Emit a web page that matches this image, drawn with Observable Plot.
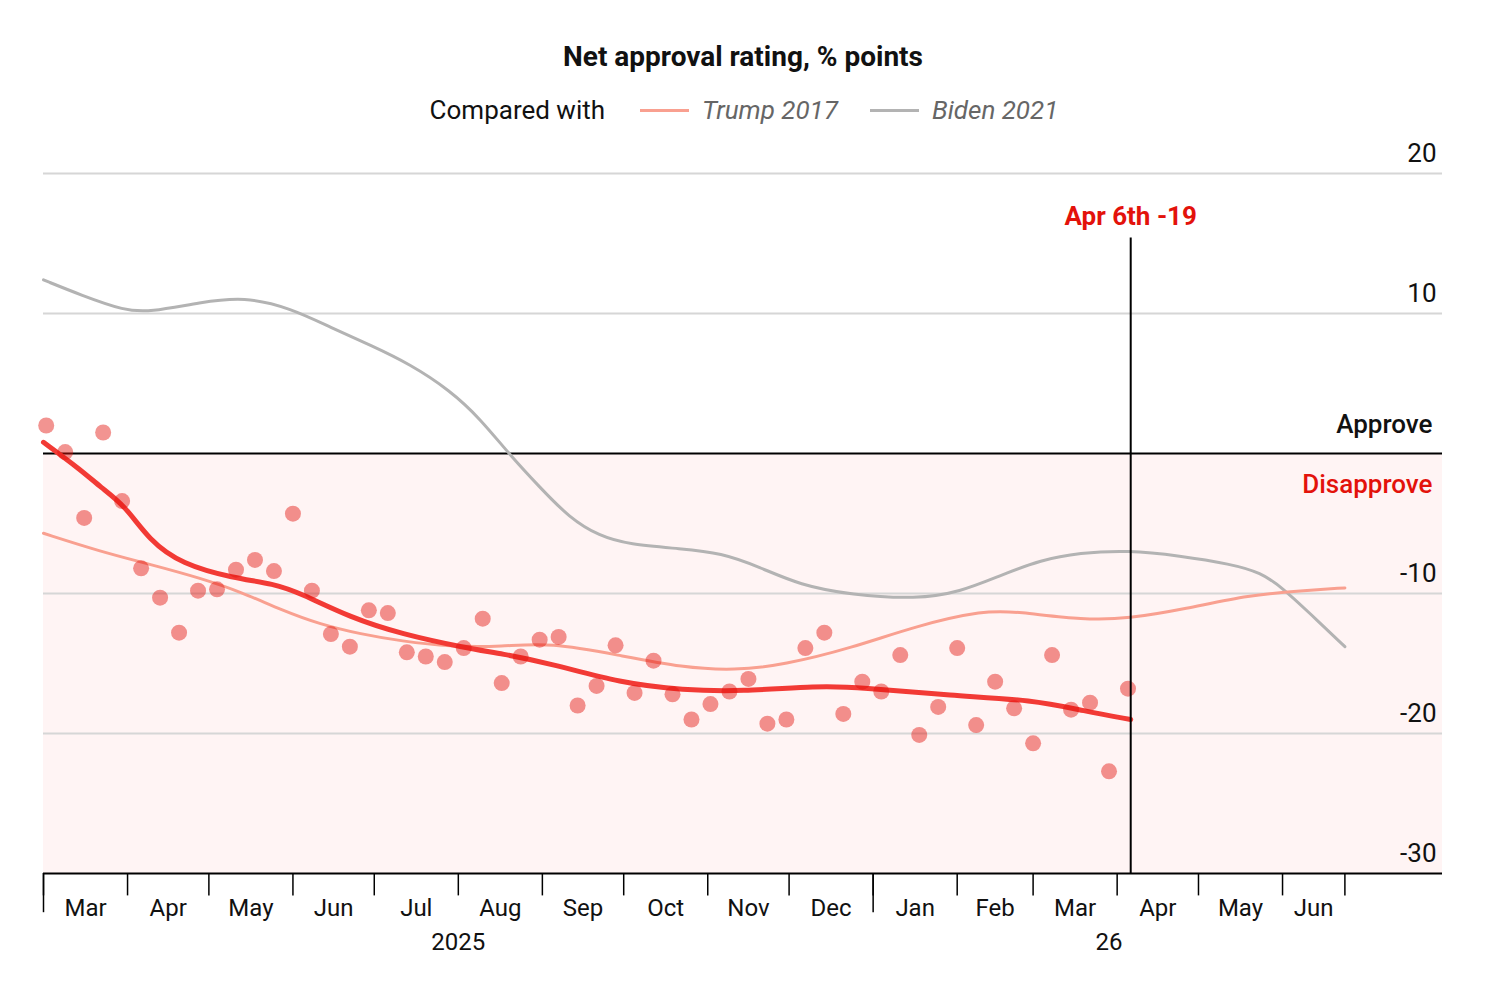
<!DOCTYPE html>
<html><head><meta charset="utf-8">
<script src="https://cdn.jsdelivr.net/npm/d3@7"></script>
<script src="https://cdn.jsdelivr.net/npm/@observablehq/plot@0.6"></script>
<style>
body{margin:0;background:#fff;font-family:Roboto,"Noto Sans",sans-serif;color:#111;}
#head{position:relative;height:126px;width:1500px;}
#title{position:absolute;top:40px;left:0;width:1486px;text-align:center;font-weight:700;font-size:28px;line-height:34px;color:#111;}
#legend{position:absolute;top:95px;left:0;width:1488px;display:flex;justify-content:center;align-items:center;font-size:26px;line-height:30px;}
.sw{display:inline-block;width:49px;height:3px;margin:0 13px 0 35px;}
.lab{font-style:italic;color:#666;}
</style></head>
<body>
<div id="head">
  <div id="title">Net approval rating, % points</div>
  <div id="legend"><span>Compared with</span><span class="sw" style="background:#f9a090"></span><span class="lab">Trump 2017</span><span class="sw" style="background:#b3b3b3;margin-left:32px"></span><span class="lab">Biden 2021</span></div>
</div>
<div id="chart"></div>
<script>
// ---- data ----
const pollDates = ["2025-03-02","2025-03-09","2025-03-16","2025-03-23","2025-03-30","2025-04-06","2025-04-13","2025-04-20","2025-04-27","2025-05-04","2025-05-11","2025-05-18","2025-05-25","2025-06-01","2025-06-08","2025-06-15","2025-06-22","2025-06-29","2025-07-06","2025-07-13","2025-07-20","2025-07-27","2025-08-03","2025-08-10","2025-08-17","2025-08-24","2025-08-31","2025-09-07","2025-09-14","2025-09-21","2025-09-28","2025-10-05","2025-10-12","2025-10-19","2025-10-26","2025-11-02","2025-11-09","2025-11-16","2025-11-23","2025-11-30","2025-12-07","2025-12-14","2025-12-21","2025-12-28","2026-01-04","2026-01-11","2026-01-18","2026-01-25","2026-02-01","2026-02-08","2026-02-15","2026-02-22","2026-03-01","2026-03-08","2026-03-15","2026-03-22","2026-03-29","2026-04-05"];
const pollValues = [2.0,0.1,-4.6,1.5,-3.4,-8.2,-10.3,-12.8,-9.8,-9.7,-8.3,-7.6,-8.4,-4.3,-9.8,-12.9,-13.8,-11.2,-11.4,-14.2,-14.5,-14.9,-13.9,-11.8,-16.4,-14.5,-13.3,-13.1,-18.0,-16.6,-13.7,-17.1,-14.8,-17.2,-19.0,-17.9,-17.0,-16.1,-19.3,-19.0,-13.9,-12.8,-18.6,-16.3,-17.0,-14.4,-20.1,-18.1,-13.9,-19.4,-16.3,-18.2,-20.7,-14.4,-18.3,-17.8,-22.7,-16.8];

const trendDates = ["2025-03-01","2025-03-15","2025-03-22","2025-03-31","2025-04-09","2025-04-21","2025-05-10","2025-05-25","2025-06-04","2025-06-22","2025-07-11","2025-08-04","2025-08-17","2025-09-04","2025-09-30","2025-10-23","2025-11-13","2025-12-12","2025-12-27","2026-01-30","2026-03-01","2026-03-20","2026-04-06"];
const trendValues = [0.8,-1.2,-2.4,-3.7,-6.2,-7.9,-8.9,-9.3,-10.0,-11.7,-12.9,-13.9,-14.3,-15.0,-16.4,-16.9,-17.0,-16.6,-16.7,-17.3,-17.6,-18.4,-19.0];

const trumpDates = ["2025-03-01","2025-03-22","2025-04-09","2025-04-28","2025-05-13","2025-05-28","2025-06-11","2025-06-26","2025-07-11","2025-07-29","2025-08-17","2025-09-04","2025-09-29","2025-10-23","2025-11-11","2025-11-29","2025-12-24","2026-01-17","2026-02-11","2026-02-23","2026-03-20","2026-04-05","2026-04-26","2026-05-20","2026-06-08","2026-06-24"];
const trumpValues = [-5.7,-7.0,-7.9,-8.9,-9.9,-11.2,-12.2,-12.9,-13.4,-13.8,-13.8,-13.5,-14.4,-15.3,-15.5,-15.1,-13.9,-12.3,-11.2,-11.3,-11.9,-11.8,-11.1,-10.1,-9.8,-9.6];

const bidenDates = ["2025-03-01","2025-03-15","2025-03-31","2025-04-09","2025-04-28","2025-05-14","2025-05-31","2025-06-15","2025-06-30","2025-07-14","2025-07-29","2025-08-09","2025-08-20","2025-08-31","2025-09-11","2025-09-22","2025-10-03","2025-10-22","2025-11-06","2025-11-20","2025-12-05","2025-12-24","2026-01-17","2026-02-02","2026-02-17","2026-03-04","2026-03-18","2026-04-05","2026-04-24","2026-05-13","2026-05-24","2026-06-01","2026-06-11","2026-06-24"];
const bidenValues = [12.4,11.3,10.2,10.1,10.8,11.2,10.4,9.0,7.7,6.4,4.5,2.5,-0.1,-2.4,-4.6,-5.9,-6.5,-6.8,-7.1,-8.1,-9.4,-10.1,-10.4,-9.9,-8.7,-7.6,-7.1,-6.9,-7.3,-7.9,-8.5,-9.6,-11.4,-13.8];

const yLabels = [20,10,-10,-20,-30];
const gridValues = [20,10,-10,-20];
const tickDates = ["2025-03-01","2025-04-01","2025-05-01","2025-06-01","2025-07-01","2025-08-01","2025-09-01","2025-10-01","2025-11-01","2025-12-01","2026-01-01","2026-02-01","2026-03-01","2026-04-01","2026-05-01","2026-06-01","2026-06-24"];
const tallTickDates = ["2025-03-01","2026-01-01"];
const monthLabels = ["Mar","Apr","May","Jun","Jul","Aug","Sep","Oct","Nov","Dec","Jan","Feb","Mar","Apr","May","Jun"];
const yearLabels = ["2025","26"];
const yearSpans = [["2025-03-01","2026-01-01"],["2026-01-01","2026-06-24"]];
const xDomain = ["2025-03-01","2026-07-30"];
const yDomain = [-30,20];
const latest = {date:"2026-04-06", value:-19, label:"Apr 6th -19"};

// ---- build ----
const P = d3.utcParse("%Y-%m-%d");
const zip = (ds, vs) => ds.map((d,i) => ({date:P(d), value:vs[i]}));
const polls = zip(pollDates, pollValues);
const trend = zip(trendDates, trendValues);
const trump = zip(trumpDates, trumpValues);
const biden = zip(bidenDates, bidenValues);
const ticks = tickDates.map(P);
const tallTicks = tallTickDates.map(P);
const months = monthLabels.map((m,i) => ({label:m, date:new Date((ticks[i].getTime()+ticks[i+1].getTime())/2)}));
const years = yearLabels.map((y,i) => ({label:y, date:new Date((P(yearSpans[i][0]).getTime()+P(yearSpans[i][1]).getTime())/2)}));
const x0 = P(xDomain[0]), x1 = P(xDomain[1]);
const latestDate = P(latest.date);
const bottom = yDomain[0];

const chart = Plot.plot({
  width: 1500,
  height: 882,
  marginLeft: 43,
  marginRight: 58,
  marginTop: 47,
  marginBottom: 135,
  style: {fontFamily: "Roboto, 'Noto Sans', sans-serif", background: "white", color: "#111"},
  x: {type: "utc", domain: [x0, x1], axis: null},
  y: {domain: yDomain, axis: null},
  marks: [
    Plot.rect([0], {x1: () => x0, x2: () => x1, y1: () => bottom, y2: () => 0, fill: "#fff4f4"}),
    Plot.ruleY(gridValues, {y: d => d, stroke: "#d6d6d6", strokeWidth: 2}),
    Plot.ruleY([0], {y: d => d, stroke: "#000", strokeWidth: 2}),
    Plot.line(biden, {x: "date", y: "value", stroke: "#b3b3b3", strokeWidth: 3, curve: "basis"}),
    Plot.line(trump, {x: "date", y: "value", stroke: "#f9a090", strokeWidth: 3, curve: "basis"}),
    Plot.line(trend, {x: "date", y: "value", stroke: "#f23a35", strokeWidth: 5, curve: "basis"}),
    Plot.dot(polls, {x: "date", y: "value", r: 8, fill: "#e3120b", fillOpacity: 0.45, stroke: "none"}),
    Plot.ruleX([latest], {x: () => latestDate, y1: () => bottom, y2: () => 15.4, stroke: "#000", strokeWidth: 2}),
    Plot.text([latest], {x: () => latestDate, y: () => 15.4, text: d => d.label, dy: -21, fill: "#e3120b", fontSize: 26, fontWeight: 700, textAnchor: "middle"}),
    Plot.text(yLabels, {x: () => x1, y: d => d, text: d => String(d), textAnchor: "end", dx: -6, dy: -20, fontSize: 26, fill: "#111"}),
    Plot.text(["Approve"], {x: () => x1, y: () => 0, text: d => d, textAnchor: "end", dx: -10, dy: -29, fontSize: 26, fontWeight: 500, fill: "#111"}),
    Plot.text(["Disapprove"], {x: () => x1, y: () => 0, text: d => d, textAnchor: "end", dx: -10, dy: 31, fontSize: 26, fontWeight: 500, fill: "#e3120b"}),
    Plot.ruleY([bottom], {y: d => d, stroke: "#000", strokeWidth: 2}),
    Plot.ruleX(ticks, {x: d => d, y1: () => bottom, y2: () => bottom - 1.6, stroke: "#000", strokeWidth: 1.5}),
    Plot.ruleX(tallTicks, {x: d => d, y1: () => bottom, y2: () => bottom - 2.8, stroke: "#000", strokeWidth: 1.5}),
    Plot.text(months, {x: "date", y: () => bottom, text: "label", dy: 35, fontSize: 24, fill: "#111", lineAnchor: "middle"}),
    Plot.text(years, {x: "date", y: () => bottom, text: "label", dy: 69, fontSize: 24, fill: "#111", lineAnchor: "middle"})
  ]
});
document.getElementById("chart").appendChild(chart);
</script>
</body></html>
